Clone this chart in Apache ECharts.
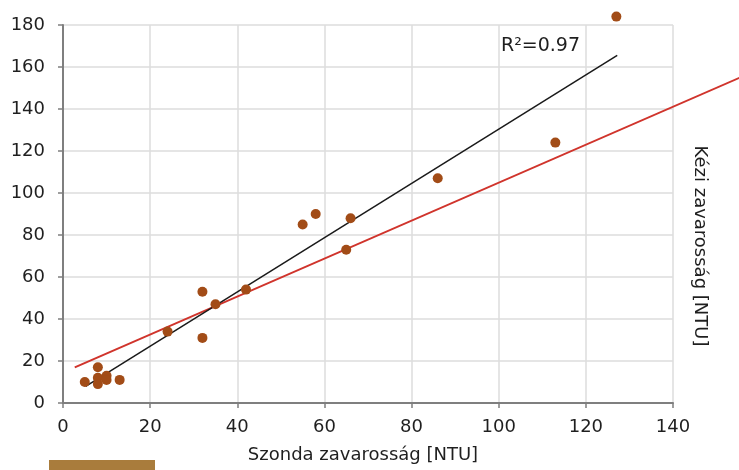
<!DOCTYPE html>
<html>
<head>
<meta charset="utf-8">
<script src="https://cdn.jsdelivr.net/npm/echarts@6/dist/echarts.min.js"></script>
<style>
html,body{margin:0;padding:0;background:#fff;}
#c{width:739px;height:470px;}
</style>
</head>
<body>
<div id="c"></div>
<script>
// Measured points: Szonda (x) vs Kézi (y) turbidity [NTU]
var szonda = [5, 8, 8, 8, 10, 10, 13, 24, 32, 32, 35, 42, 55, 58, 65, 66, 86, 113, 127];
var kezi   = [10, 17, 12, 9, 13, 11, 11, 34, 53, 31, 47, 54, 85, 90, 73, 88, 107, 124, 184];
// Regression (black) line endpoints
var fitX = [5.2, 127.2];
var fitY = [7.9, 165.5];
// Red reference line endpoints (runs past the plot to the right edge)
var refX = [2.7, 155.4];
var refY = [17.0, 155.0];
var xTicks = [0, 20, 40, 60, 80, 100, 120, 140];
var yTicks = [0, 20, 40, 60, 80, 100, 120, 140, 160, 180];
var r2Label = 'R²=0.97';
var xTitle = 'Szonda zavarosság [NTU]';
var yTitle = 'Kézi zavarosság [NTU]';

var pts = szonda.map(function (v, i) { return [v, kezi[i]]; });
var fit = fitX.map(function (v, i) { return [v, fitY[i]]; });
var ref = refX.map(function (v, i) { return [v, refY[i]]; });

var W = 739, L = 63, R = 66;
var xMin = xTicks[0], xMax = xTicks[xTicks.length - 1];
// second (hidden) grid spans to the canvas edge with identical x scale
var plotW = W - L - R;
var xMax2 = xMin + (xMax - xMin) * (W - L) / plotW;

var chart = echarts.init(document.getElementById('c'), null, { renderer: 'canvas' });
var font = 'DejaVu Sans';
var txt = '#1f1f1f';
chart.setOption({
  animation: false,
  backgroundColor: '#ffffff',
  grid: [
    { left: L, right: R, top: 25, bottom: 67, containLabel: false },
    { left: L, right: 0, top: 25, bottom: 67, containLabel: false }
  ],
  xAxis: [{
    type: 'value', min: xMin, max: xMax, interval: 20, gridIndex: 0,
    axisLine: { show: true, lineStyle: { color: '#7f7f7f', width: 2 } },
    axisTick: { show: true, length: 5, lineStyle: { color: '#7f7f7f', width: 1.5 } },
    axisLabel: { color: txt, fontFamily: font, fontSize: 18, margin: 15 },
    splitLine: { show: true, lineStyle: { color: '#dcdcdc', width: 1.5 } }
  }, {
    type: 'value', min: xMin, max: xMax2, gridIndex: 1, show: false
  }],
  yAxis: [{
    type: 'value', min: yTicks[0], max: yTicks[yTicks.length - 1], interval: 20, gridIndex: 0,
    axisLine: { show: true, lineStyle: { color: '#7f7f7f', width: 2 } },
    axisTick: { show: true, length: 5, lineStyle: { color: '#7f7f7f', width: 1.5 } },
    axisLabel: { color: txt, fontFamily: font, fontSize: 18, margin: 18 },
    splitLine: { show: true, lineStyle: { color: '#dcdcdc', width: 1.5 } }
  }, {
    type: 'value', min: yTicks[0], max: yTicks[yTicks.length - 1], gridIndex: 1, show: false
  }],
  series: [
    {
      type: 'line', data: ref, xAxisIndex: 1, yAxisIndex: 1, clip: false, symbol: 'none', silent: true,
      lineStyle: { color: '#d0342c', width: 2 }, z: 3
    },
    {
      type: 'line', data: fit, clip: false, symbol: 'none', silent: true,
      lineStyle: { color: '#1a1a1a', width: 1.5 }, z: 4
    },
    {
      type: 'scatter', data: pts, clip: false, symbolSize: 10,
      itemStyle: { color: '#a24c17', opacity: 1 }, z: 5
    }
  ],
  graphic: [
    { type: 'text', x: 501, y: 46, style: { text: r2Label, fill: txt, font: '19px "DejaVu Sans"', verticalAlign: 'middle' } },
    { type: 'text', x: 363, y: 455, style: { text: xTitle, fill: txt, font: '18px "DejaVu Sans"', align: 'center', verticalAlign: 'middle' } },
    { type: 'text', x: 700, y: 246, rotation: -Math.PI / 2, style: { text: yTitle, fill: txt, font: '18px "DejaVu Sans"', align: 'center', verticalAlign: 'middle' } },
    { type: 'rect', shape: { x: 49, y: 460, width: 106, height: 12 }, style: { fill: '#a97c3c' } }
  ]
});
</script>
</body>
</html>
